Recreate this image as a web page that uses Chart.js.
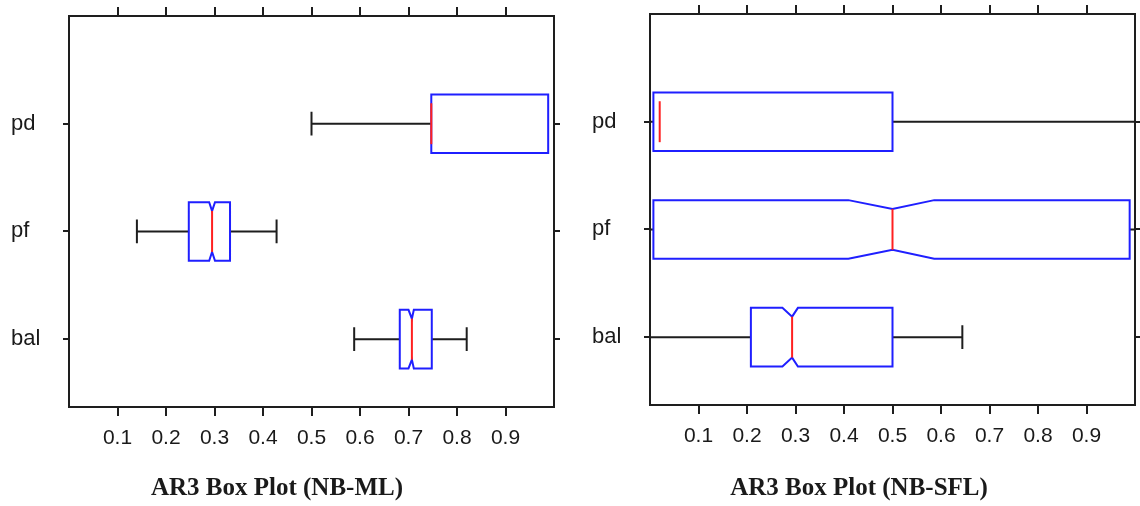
<!DOCTYPE html>
<html>
<head>
<meta charset="utf-8">
<script src="https://cdn.jsdelivr.net/npm/chart.js@4/dist/chart.umd.min.js"></script>
<style>
  body { margin: 0; background: #fff; width: 1140px; height: 506px; position: relative; overflow: hidden; }
  canvas { position: absolute; top: 0; }
  #mlChart { left: 0; }
  #sflChart { left: 580px; }
  .title {
    position: absolute; top: 475px; width: 400px; text-align: center;
    font-family: "Liberation Serif", "Times New Roman", serif; font-weight: bold;
    font-size: 25px; line-height: 24px; color: #1a1a1a;
  }
</style>
</head>
<body>
<canvas id="mlChart" width="580" height="506"></canvas>
<canvas id="sflChart" width="560" height="506"></canvas>
<div class="title" style="left: 77px;">AR3 Box Plot (NB-ML)</div>
<div class="title" style="left: 659px;">AR3 Box Plot (NB-SFL)</div>
<script>
// categories bottom to top
const categories = ['bal', 'pf', 'pd'];
const categoryPos = [1, 2, 3];
const xTicks = [0.1, 0.2, 0.3, 0.4, 0.5, 0.6, 0.7, 0.8, 0.9];

// NB-ML
const mlMin    = [0.588, 0.140, 0.500];
const mlQ1     = [0.682, 0.247, 0.747];
const mlMedian = [0.707, 0.295, 0.747];
const mlQ3     = [0.748, 0.332, 0.988];
const mlMax    = [0.820, 0.428, 0.988];
const mlNotchLo = [0.700, 0.289, null];
const mlNotchHi = [0.711, 0.301, null];

// NB-SFL
const sflMin    = [0.000, 0.000, 0.000];
const sflQ1     = [0.208, 0.007, 0.007];
const sflMedian = [0.293, 0.500, 0.020];
const sflQ3     = [0.500, 0.989, 0.500];
const sflMax    = [0.644, 1.000, 1.000];
const sflNotchLo = [0.273, 0.409, null];
const sflNotchHi = [0.305, 0.586, null];

const boxHalf = 0.272;   // in category units
const notchDepth = 0.082;
const capHalf = 0.11;

const frameColor = '#1e1e1e';

function boxPlugin(stats) {
  return {
    id: 'boxes',
    afterDatasetsDraw(chart) {
      const { ctx, chartArea, scales } = chart;
      const x = scales.x, y = scales.y;
      ctx.save();
      ctx.beginPath();
      ctx.rect(chartArea.left, chartArea.top, chartArea.width, chartArea.height);
      ctx.clip();
      ctx.lineWidth = 2;
      ctx.lineJoin = 'miter';
      categoryPos.forEach((c, i) => {
        const yc = y.getPixelForValue(c);
        const top = y.getPixelForValue(c + boxHalf);
        const bot = y.getPixelForValue(c - boxHalf);
        const inset = y.getPixelForValue(c) - y.getPixelForValue(c + notchDepth);
        const cap = y.getPixelForValue(c) - y.getPixelForValue(c + capHalf);
        const xMin = x.getPixelForValue(stats.min[i]);
        const xQ1 = x.getPixelForValue(stats.q1[i]);
        const xMed = x.getPixelForValue(stats.median[i]);
        const xQ3 = x.getPixelForValue(stats.q3[i]);
        const xMax = x.getPixelForValue(stats.max[i]);

        // whiskers
        ctx.strokeStyle = frameColor;
        ctx.beginPath();
        if (stats.min[i] < stats.q1[i]) {
          ctx.moveTo(xMin, yc); ctx.lineTo(xQ1, yc);
          ctx.moveTo(xMin, yc - cap); ctx.lineTo(xMin, yc + cap);
        }
        if (stats.max[i] > stats.q3[i]) {
          ctx.moveTo(xQ3, yc); ctx.lineTo(xMax, yc);
          ctx.moveTo(xMax, yc - cap); ctx.lineTo(xMax, yc + cap);
        }
        ctx.stroke();

        // box
        ctx.strokeStyle = '#1f1fff';
        ctx.beginPath();
        if (stats.notchLo[i] !== null) {
          const xl = x.getPixelForValue(stats.notchLo[i]);
          const xh = x.getPixelForValue(stats.notchHi[i]);
          ctx.moveTo(xQ1, top); ctx.lineTo(xl, top); ctx.lineTo(xMed, top + inset);
          ctx.lineTo(xh, top); ctx.lineTo(xQ3, top); ctx.lineTo(xQ3, bot);
          ctx.lineTo(xh, bot); ctx.lineTo(xMed, bot - inset); ctx.lineTo(xl, bot);
          ctx.lineTo(xQ1, bot); ctx.closePath();
        } else {
          ctx.rect(xQ1, top, xQ3 - xQ1, bot - top);
        }
        ctx.stroke();

        // median
        ctx.strokeStyle = '#ff2020';
        ctx.beginPath();
        ctx.moveTo(xMed, top + inset); ctx.lineTo(xMed, bot - inset);
        ctx.stroke();
      });
      ctx.restore();
    }
  };
}

function axisBase(extra) {
  return Object.assign({
    type: 'linear',
    border: { display: true, color: frameColor, width: 2 },
  }, extra);
}

function makeChart(id, stats, lay) {
  const xBuild = s => { s.ticks = xTicks.map(v => ({ value: v })); };
  const yBuild = s => { s.ticks = categoryPos.map(v => ({ value: v })); };
  return new Chart(document.getElementById(id), {
    type: 'scatter',
    data: { datasets: [] },
    options: {
      responsive: false,
      animation: false,
      layout: { padding: { left: lay.padLeft, right: 0, top: 0, bottom: 0 } },
      plugins: { legend: { display: false }, tooltip: { enabled: false }, title: { display: false } },
      scales: {
        x: axisBase({
          position: 'bottom', min: 0, max: 1,
          afterBuildTicks: xBuild,
          afterFit: s => { s.height = lay.bottom; },
          grid: { drawOnChartArea: false, color: frameColor, lineWidth: 2, tickLength: 9 },
          ticks: { color: '#1a1a1a', padding: 10, maxRotation: 0, autoSkip: false,
                   font: { family: 'Liberation Sans', size: 21 }, callback: v => String(v) }
        }),
        x2: axisBase({
          position: 'top', min: 0, max: 1,
          afterBuildTicks: xBuild,
          afterFit: s => { s.height = lay.top; },
          grid: { drawOnChartArea: false, color: frameColor, lineWidth: 2, tickLength: 9 },
          ticks: { display: false }
        }),
        y: axisBase({
          position: 'left', min: 0.37, max: 4.0,
          afterBuildTicks: yBuild,
          afterFit: s => { s.width = 58; },
          grid: { drawOnChartArea: false, color: frameColor, lineWidth: 2, tickLength: 6 },
          ticks: { color: '#1a1a1a', padding: 0, crossAlign: 'far', autoSkip: false,
                   font: { family: 'Liberation Sans', size: 22 },
                   callback: v => categories[categoryPos.indexOf(v)] }
        }),
        y2: axisBase({
          position: 'right', min: 0.37, max: 4.0,
          afterBuildTicks: yBuild,
          afterFit: s => { s.width = lay.right; },
          grid: { drawOnChartArea: false, color: frameColor, lineWidth: 2, tickLength: 6 },
          ticks: { display: false, padding: 0 }
        })
      }
    },
    plugins: [boxPlugin(stats)]
  });
}

makeChart('mlChart', {
  min: mlMin, q1: mlQ1, median: mlMedian, q3: mlQ3, max: mlMax,
  notchLo: mlNotchLo, notchHi: mlNotchHi
}, { padLeft: 11, top: 16, bottom: 99, right: 26 });

makeChart('sflChart', {
  min: sflMin, q1: sflQ1, median: sflMedian, q3: sflQ3, max: sflMax,
  notchLo: sflNotchLo, notchHi: sflNotchHi
}, { padLeft: 12, top: 14, bottom: 101, right: 5 });
</script>
</body>
</html>
